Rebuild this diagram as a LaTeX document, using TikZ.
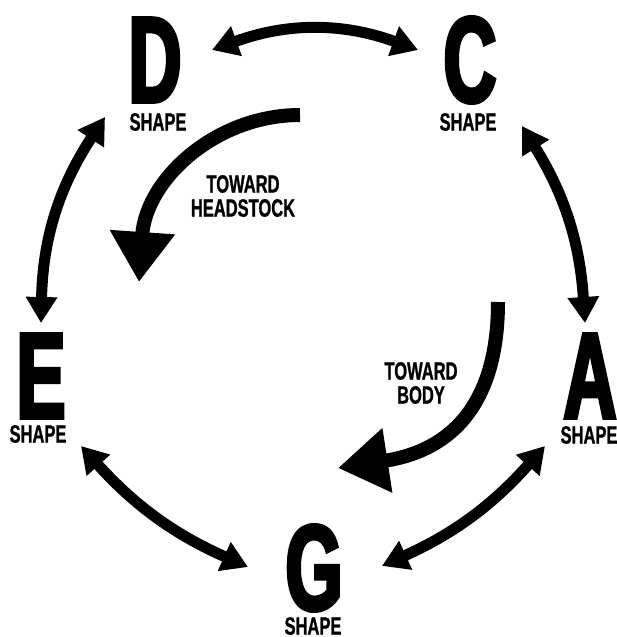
\documentclass[tikz,border=0pt]{standalone}
\usepackage{fontspec}
\newfontfamily\shapefont[FakeStretch=0.66,FakeBold=1]{Liberation Sans}
\newfontfamily\letterfont[FakeStretch=0.6,FakeBold=3]{Liberation Sans}
\usetikzlibrary{arrows.meta}

\begin{document}
\begin{tikzpicture}[
  x=1pt, y=-1pt,
  letter/.style={font=\letterfont\bfseries\fontsize{122}{122}\selectfont, inner sep=0pt},
  caption/.style={font=\shapefont\bfseries\fontsize{25}{24}\selectfont, inner sep=0pt, align=center},
  swap/.style={line width=11pt, {Triangle[length=26pt,width=30pt]}-{Triangle[length=26pt,width=30pt]}},
  turn/.style={line width=14pt, -{Triangle[length=50pt,width=62pt]}}
]
\useasboundingbox (0,0) rectangle (616,637);

% chord shapes round the circle
\node[letter] (D) at (155,60) {D};
\node[letter] (C) at (470,60) {C};
\node[letter] (E) at (41,376) {E};
\node[letter] (A) at (590,376) {A};
\node[letter] (G) at (314,568) {G};

\node[caption] (Dlbl) at (158,122) {SHAPE};
\node[caption] (Clbl) at (468,122) {SHAPE};
\node[caption] (Elbl) at (38,434) {SHAPE};
\node[caption] (Albl) at (589,435) {SHAPE};
\node[caption] (Glbl) at (313,626) {SHAPE};

% moves between neighbouring shapes
\draw[swap] ([shift={(57,-10)}]D.center) to[bend left=20] ([shift={(-52,-10)}]C.center);
\draw[swap] ([shift={(0,-53)}]E.center) to[bend left=16] ([shift={(-50,57)}]D.center);
\draw[swap] ([shift={(52,66)}]C.center) to[bend left=14] ([shift={(-5,-53)}]A.center);
\draw[swap] ([shift={(40,70)}]E.center) to[bend right=12] ([shift={(-66,-1)}]G.center);
\draw[swap] ([shift={(68,-2)}]G.center) to[bend right=12] ([shift={(-45,70)}]A.center);

% direction hints
\coordinate (hsStart) at (300,115);
\coordinate (hsEnd) at (139,282);
\coordinate (bdStart) at (498,302);
\coordinate (bdEnd) at (338,468);
\draw[turn] (hsStart) .. controls (215,115) and (146,180) .. (hsEnd);
\draw[turn] (bdStart) .. controls (498,400) and (455,450) .. (bdEnd);

\node[caption] (headstock) at (243,196) {TOWARD\\HEADSTOCK};
\node[caption] (body) at (421,383) {TOWARD\\BODY};
\end{tikzpicture}
\end{document}
